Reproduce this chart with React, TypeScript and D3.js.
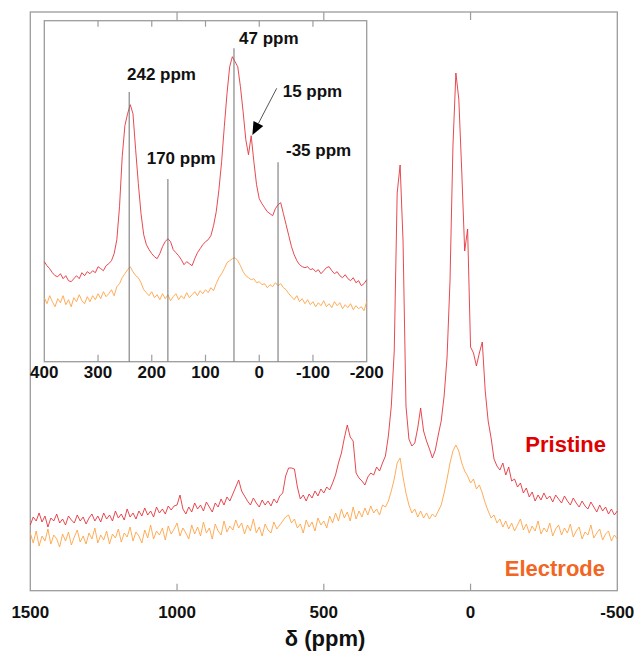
import React from 'react';
import * as d3 from 'd3';

// ---------- DATA ----------
const mainPpmStart = 1500;
const mainPpmStep = -10;
const insetPpmStart = 400;
const insetPpmStep = -5;

const mainTicks = [1500, 1000, 500, 0, -500];
const insetTicks = [400, 300, 200, 100, 0, -100, -200];

// main spectrum, 1500 -> -500 ppm, every 10 ppm (arbitrary intensity)
const pristineMain = [
  66, 74, 70, 78, 69, 75, 64, 73, 70, 77,
  68, 72, 66, 75, 71, 68, 76, 70, 74, 67,
  73, 77, 70, 75, 69, 78, 72, 76, 70, 80,
  73, 77, 71, 82, 74, 78, 72, 80, 75, 83,
  76, 80, 74, 84, 78, 82, 77, 85, 81, 85,
  86, 96, 82, 77, 84, 79, 88, 82, 86, 80,
  89, 84, 79, 88, 84, 92, 86, 94, 90, 97,
  104, 111, 100, 95, 90, 86, 93, 88, 84, 91,
  86, 90, 85, 92, 88, 95, 98, 115, 123, 123,
  122, 104, 92, 96, 90, 97, 93, 100, 95, 102,
  98, 104, 101, 108, 116, 128, 138, 153, 166, 154,
  150, 118, 113, 110, 106, 114, 118, 116, 124, 120,
  128, 135, 155, 185, 240, 398, 426, 350, 185, 152,
  145, 148, 163, 183, 160, 150, 142, 133, 141, 156,
  170, 195, 234, 310, 445, 518, 492, 420, 340, 362,
  244, 238, 225, 238, 249, 200, 170, 153, 132, 125,
  121, 128, 116, 124, 110, 112, 104, 108, 98, 103,
  94, 99, 90, 96, 91, 98, 92, 95, 89, 96,
  92, 88, 95, 90, 86, 93, 88, 84, 90, 85,
  82, 89, 84, 79, 86, 80, 84, 77, 82, 76,
  80,
];

const electrodeMain = [
  58, 48, 60, 45, 55, 50, 62, 47, 56, 52,
  44, 57, 50, 59, 46, 54, 61, 49, 55, 47,
  58, 52, 63, 48, 56, 51, 60, 47, 57, 53,
  62, 49, 58, 54, 64, 50, 59, 55, 48, 61,
  53, 66, 52, 60, 56, 63, 51, 65, 57, 62,
  68, 55, 63, 58, 52, 66, 57, 64, 55, 69,
  58, 63, 52, 67, 60, 56, 70, 59, 65, 61,
  71, 63, 68, 57, 66, 60, 72, 58, 64, 55,
  67, 61, 58, 69, 62, 66, 70, 74, 76, 68,
  72, 63, 67, 58, 71, 64, 69, 60, 73, 66,
  70, 63, 75, 68, 78, 70, 82, 73, 79, 70,
  84, 72, 80, 74, 83, 76, 85, 78, 82, 76,
  86, 84, 90, 100, 112, 128, 133, 114, 98, 86,
  78, 82, 74, 80, 73, 78, 72, 77, 74, 80,
  86, 98, 112, 128, 140, 146, 140, 128, 120, 115,
  108, 112, 102, 106, 98, 88, 80, 73, 76, 68,
  72, 64, 70, 62, 68, 60, 66, 72, 61, 67,
  58, 65, 60, 70, 57, 63, 59, 68, 55, 62,
  66, 56, 63, 58, 67, 54, 60, 64, 52, 59,
  56, 66, 53, 58, 62, 51, 57, 60, 50, 56,
  52,
];

// inset spectrum, 400 -> -200 ppm, every 5 ppm
const pristineInset = [
  100, 96, 93, 89, 86, 85, 88, 83, 86, 81,
  80, 83, 86, 83, 89, 86, 90, 88, 91, 89,
  95, 93, 91, 96, 98, 101, 108, 122, 155, 205,
  236, 248, 257, 248, 212, 178, 148, 127, 117, 112,
  108, 105, 103, 108, 115, 120, 123, 120, 112, 109,
  106, 102, 97, 100, 98, 96, 103, 109, 113, 117,
  120, 122, 126, 136, 150, 172, 200, 235, 268, 295,
  305, 300, 295, 275, 250, 222, 207, 226, 200, 177,
  163, 158, 154, 150, 148, 146, 153, 157, 159, 148,
  137, 126, 115, 107, 101, 97, 95, 94, 95, 92,
  93, 90, 92, 88, 91, 94, 95, 91, 88, 90,
  86, 84, 87, 83, 81, 84, 79, 81, 76, 78,
  82,
];

const electrodeInset = [
  64, 58, 66, 60, 55, 63, 59, 66, 57, 62,
  55, 64, 60, 67, 61, 58, 65, 60, 66, 62,
  68, 63, 70, 65, 68, 72, 66, 75, 78, 84,
  88, 92, 95, 90, 86, 84, 79, 72, 69, 66,
  70, 64, 67, 62, 68, 63, 67, 61, 65, 68,
  62, 66, 63, 69, 64, 67, 70, 66, 71, 68,
  72, 69, 74, 71, 78, 84, 88, 93, 99, 101,
  103, 104, 101, 96, 90, 86, 84, 82, 83, 79,
  80, 77, 78, 74, 77, 75, 79, 76, 78, 74,
  72, 68, 65, 62, 66, 60, 63, 58, 62, 57,
  60, 55, 59, 56, 61, 55, 58, 54, 60, 56,
  59, 53, 57, 54, 58, 52, 56, 53, 55, 51,
  60,
];

const markerPpm = [242, 170, 47, -35];
const markerText = ['242 ppm', '170 ppm', '47 ppm', '-35 ppm'];
const arrowPpm = 15;
const arrowText = '15 ppm';
const seriesNames = ['Pristine', 'Electrode'];

// ---------- LAYOUT ----------
const W = 636;
const H = 658;
const FONT = 'Arial, "Liberation Sans", Helvetica, sans-serif';
const C_PR_LINE = '#e4343c';
const C_EL_LINE = '#ffa446';
const C_PR_TEXT = '#e00000';
const C_EL_TEXT = '#f26522';
const FRAME = '#9c9c9c';

export default function App() {
  const mx = d3.scaleLinear().domain([1500, -500]).range([30.3, 617.3]);
  const my = d3.scaleLinear().domain([0, 580]).range([591, 11]);
  const ix = d3.scaleLinear().domain([400, -200]).range([44.3, 366.7]);
  const iy = d3.scaleLinear().domain([0, 341]).range([361.7, 20.7]);

  const mainLine = d3
    .line<number>()
    .x((_, i) => mx(mainPpmStart + i * mainPpmStep))
    .y((d) => my(d));
  const insetLine = d3
    .line<number>()
    .x((_, i) => ix(insetPpmStart + i * insetPpmStep))
    .y((d) => iy(d));

  const mTop = 12;
  const mBottom = 590.7;
  const iTop = 20.7;
  const iBottom = 361.7;
  const tickLen = 7;

  // inset marker layout (line tops, label positions)
  const markerTop = [92, 179, 48.3, 162.3];
  const labelPos = [
    [127, 80],
    [146.7, 164],
    [239, 44],
    [286, 156],
  ];

  const arrowStart = [276.7, 88.3];
  const arrowTip = [ix(arrowPpm) + 1.2, 135];
  const ang = Math.atan2(arrowTip[1] - arrowStart[1], arrowTip[0] - arrowStart[0]);
  const ah = 13;
  const aw = 5.5;
  const bx = arrowTip[0] - ah * Math.cos(ang);
  const by = arrowTip[1] - ah * Math.sin(ang);
  const headPts = [
    [arrowTip[0], arrowTip[1]],
    [bx + aw * Math.sin(ang), by - aw * Math.cos(ang)],
    [bx - aw * Math.sin(ang), by + aw * Math.cos(ang)],
  ]
    .map((p) => p.join(','))
    .join(' ');

  return (
    <svg
      width={W}
      height={H}
      style={{ position: 'absolute', left: 0, top: 0, background: '#fff' }}
      fontFamily={FONT}
    >
      <rect x={0} y={0} width={W} height={H} fill="#fff" />

      {/* main frame */}
      <rect
        x={mx(1500)}
        y={mTop}
        width={mx(-500) - mx(1500)}
        height={mBottom - mTop}
        fill="none"
        stroke={FRAME}
        strokeWidth={1.3}
      />
      {mainTicks.slice(1, -1).map((t) => (
        <g key={'mt' + t}>
          <line x1={mx(t)} x2={mx(t)} y1={mBottom} y2={mBottom - tickLen} stroke={FRAME} strokeWidth={1.2} />
          <line x1={mx(t)} x2={mx(t)} y1={mTop} y2={mTop + tickLen + 1} stroke={FRAME} strokeWidth={1.2} />
        </g>
      ))}
      {mainTicks.map((t) => (
        <text
          key={'ml' + t}
          x={mx(t)}
          y={618}
          textAnchor="middle"
          fontSize={17}
          fontWeight="bold"
          fill="#111"
        >
          {t}
        </text>
      ))}
      <text x={325} y={646} textAnchor="middle" fontSize={22} fontWeight="bold" fill="#111">
        δ (ppm)
      </text>

      {/* main spectra */}
      <path d={mainLine(electrodeMain) || ''} fill="none" stroke={C_EL_LINE} strokeWidth={0.9} />
      <path d={mainLine(pristineMain) || ''} fill="none" stroke={C_PR_LINE} strokeWidth={0.9} />

      <text x={606} y={452} textAnchor="end" fontSize={22} fontWeight="bold" fill={C_PR_TEXT}>
        {seriesNames[0]}
      </text>
      <text x={605} y={576} textAnchor="end" fontSize={22} fontWeight="bold" fill={C_EL_TEXT}>
        {seriesNames[1]}
      </text>

      {/* inset */}
      <rect
        x={ix(400)}
        y={iTop}
        width={ix(-200) - ix(400)}
        height={iBottom - iTop}
        fill="#fff"
        stroke={FRAME}
        strokeWidth={1.3}
      />
      {insetTicks.slice(1, -1).map((t) => (
        <g key={'it' + t}>
          <line x1={ix(t)} x2={ix(t)} y1={iBottom} y2={iBottom - tickLen} stroke={FRAME} strokeWidth={1.2} />
          <line x1={ix(t)} x2={ix(t)} y1={iTop} y2={iTop + 6} stroke={FRAME} strokeWidth={1.2} />
        </g>
      ))}
      {insetTicks.map((t) => (
        <text
          key={'il' + t}
          x={ix(t)}
          y={378}
          textAnchor="middle"
          fontSize={17}
          fontWeight="bold"
          fill="#111"
        >
          {t}
        </text>
      ))}

      <path d={insetLine(electrodeInset) || ''} fill="none" stroke={C_EL_LINE} strokeWidth={0.9} />
      <path d={insetLine(pristineInset) || ''} fill="none" stroke={C_PR_LINE} strokeWidth={0.9} />

      {markerPpm.map((p, i) => (
        <g key={'mk' + p}>
          <line x1={ix(p)} x2={ix(p)} y1={markerTop[i]} y2={iBottom} stroke="#7a7a7a" strokeWidth={1.1} />
          <text x={labelPos[i][0]} y={labelPos[i][1]} fontSize={17} fontWeight="bold" fill="#111">
            {markerText[i]}
          </text>
        </g>
      ))}

      <line
        x1={arrowStart[0]}
        y1={arrowStart[1]}
        x2={bx}
        y2={by}
        stroke="#555"
        strokeWidth={1}
      />
      <polygon points={headPts} fill="#000" />
      <text x={282.7} y={97} fontSize={17} fontWeight="bold" fill="#111">
        {arrowText}
      </text>
    </svg>
  );
}
